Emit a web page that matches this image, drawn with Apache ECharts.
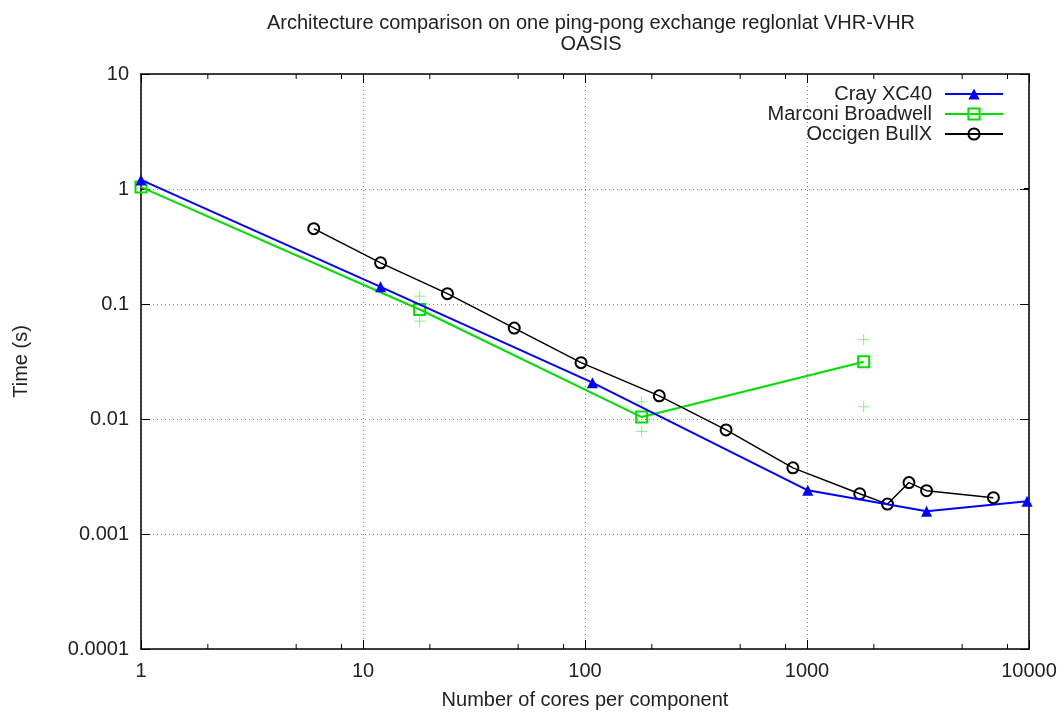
<!DOCTYPE html>
<html><head><meta charset="utf-8">
<script src="https://cdn.jsdelivr.net/npm/echarts@6/dist/echarts.min.js"></script>
<style>html,body{margin:0;padding:0;background:#fff}#c{width:1063px;height:715px}</style>
</head><body><div id="c"></div>
<script>
// Data
const crayX = [1, 12, 108, 1008, 3456, 9800];
const crayY = [1.2, 0.141, 0.0207, 0.0024, 0.00158, 0.00193];
const marconiX = [1, 18, 180, 1800];
const marconiY = [1.04, 0.0896, 0.0104, 0.0315];
const marconiErrX = [18, 18, 180, 180, 1800, 1800];
const marconiErrY = [0.117, 0.071, 0.0141, 0.0078, 0.049, 0.0128];
const occigenX = [6, 12, 24, 48, 96, 216, 432, 864, 1728, 2304, 2880, 3456, 6912];
const occigenY = [0.452, 0.228, 0.123, 0.0617, 0.0309, 0.0159, 0.00804, 0.00376, 0.00224, 0.00182, 0.0028, 0.00238, 0.00207];
const minorXTicks = [2,5,8,20,50,80,200,500,800,2000,5000,8000];
const minorYTicks = [2e-4,5e-4,8e-4,2e-3,5e-3,8e-3,0.02,0.05,0.08,0.2,0.5,0.8,2,5,8];
const xMin = 1, xMax = 10000, yMin = 1e-4, yMax = 10;

const zip = (xs, ys) => xs.map((x, i) => [x, ys[i]]);
const FONT = 'Liberation Sans';
const FS = 20;
const chart = echarts.init(document.getElementById('c'));

function minorTickRender(isX) {
  return function (params, api) {
    const v = api.value(0);
    const L = 5;
    let lines;
    if (isX) {
      const b = api.coord([v, yMin]), t = api.coord([v, yMax]);
      lines = [[b[0], b[1], b[0], b[1] - L], [t[0], t[1], t[0], t[1] + L]];
    } else {
      const l = api.coord([xMin, v]), r = api.coord([xMax, v]);
      lines = [[l[0], l[1], l[0] + L, l[1]], [r[0], r[1], r[0] - L, r[1]]];
    }
    return {
      type: 'group',
      children: lines.map(p => ({
        type: 'line',
        shape: { x1: p[0], y1: p[1], x2: p[2], y2: p[3] },
        style: { stroke: '#000', lineWidth: 1 }
      }))
    };
  };
}

const axisCommon = {
  type: 'log', logBase: 10,
  axisLine: { show: true, lineStyle: { color: '#000', width: 1.5 } },
  axisTick: { show: true, inside: true, length: 9, lineStyle: { color: '#000', width: 1 } },
};

chart.setOption({
  animation: false,
  backgroundColor: '#fff',
  textStyle: { fontFamily: FONT },
  title: {
    text: 'Architecture comparison on one ping-pong exchange reglonlat VHR-VHR\nOASIS',
    left: 586, top: 8, textAlign: 'center',
    textStyle: { fontFamily: FONT, fontSize: FS, fontWeight: 'normal', color: '#222', lineHeight: 21 }
  },
  legend: {
    data: ['Cray XC40', 'Marconi Broadwell', 'Occigen BullX'],
    orient: 'vertical', right: 54, top: 79, align: 'right',
    itemWidth: 58, itemHeight: 14, itemGap: 0,
    textStyle: { fontFamily: FONT, fontSize: FS, lineHeight: 18, color: '#222', padding: [0, 8, 0, 0] }
  },
  grid: { left: 141, right: 34, top: 74, bottom: 62, containLabel: false },
  xAxis: [
    Object.assign({}, axisCommon, {
      min: xMin, max: xMax, position: 'bottom',
      name: 'Number of cores per component', nameLocation: 'middle', nameGap: 41,
      nameTextStyle: { fontFamily: FONT, fontSize: FS, color: '#222' },
      axisLabel: { fontFamily: FONT, fontSize: FS, color: '#222', margin: 12,
        formatter: v => String(+(+v).toPrecision(6)) },
      splitLine: { show: true, lineStyle: { color: '#888', type: [1, 3], width: 1 } }
    }),
    Object.assign({}, axisCommon, {
      min: xMin, max: xMax, position: 'top',
      axisLabel: { show: false }, splitLine: { show: false }
    })
  ],
  yAxis: [
    Object.assign({}, axisCommon, {
      min: yMin, max: yMax, position: 'left',
      name: 'Time (s)', nameLocation: 'middle', nameGap: 110, nameRotate: 90,
      nameTextStyle: { fontFamily: FONT, fontSize: FS, color: '#222' },
      axisLabel: { fontFamily: FONT, fontSize: FS, color: '#222', margin: 12,
        formatter: v => String(+(+v).toPrecision(6)) },
      splitLine: { show: true, lineStyle: { color: '#888', type: [1, 3], width: 1 } }
    }),
    Object.assign({}, axisCommon, {
      min: yMin, max: yMax, position: 'right',
      axisLabel: { show: false }, splitLine: { show: false }
    })
  ],
  series: [
    {
      type: 'custom', name: 'minorX', silent: true, clip: false,
      renderItem: minorTickRender(true),
      data: minorXTicks.map(v => [v, yMin]), z: 1
    },
    {
      type: 'custom', name: 'minorY', silent: true, clip: false,
      renderItem: minorTickRender(false),
      data: minorYTicks.map(v => [xMin, v]), z: 1
    },
    {
      name: 'Marconi Broadwell', type: 'line', data: zip(marconiX, marconiY),
      symbol: 'rect', symbolSize: 11, showAllSymbol: true,
      lineStyle: { color: '#00e000', width: 2 },
      itemStyle: { color: 'rgba(0,0,0,0)', borderColor: '#00e000', borderWidth: 2 },
      z: 3
    },
    {
      name: 'Marconi err', type: 'scatter', data: zip(marconiErrX, marconiErrY),
      symbol: 'path://M0,5L10,5M5,0L5,10', symbolSize: 11,
      itemStyle: { color: 'rgba(0,0,0,0)', borderColor: '#66ee66', borderWidth: 1 },
      z: 3
    },
    {
      name: 'Occigen BullX', type: 'line', data: zip(occigenX, occigenY),
      symbol: 'circle', symbolSize: 11, showAllSymbol: true,
      lineStyle: { color: '#000', width: 1.5 },
      itemStyle: { color: 'rgba(0,0,0,0)', borderColor: '#000', borderWidth: 2 },
      z: 4
    },
    {
      name: 'Cray XC40', type: 'line', data: zip(crayX, crayY),
      symbol: 'triangle', symbolSize: 11, showAllSymbol: true,
      lineStyle: { color: '#0000ff', width: 2 },
      itemStyle: { color: '#0000ff' },
      z: 5
    }
  ]
});
</script></body></html>
